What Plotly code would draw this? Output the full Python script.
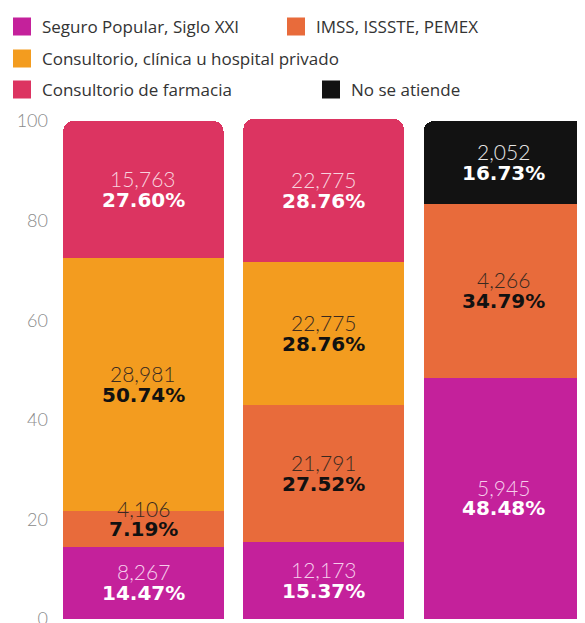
import plotly.graph_objects as go

# ---- data ----
bars = [0, 1, 2]
series_names = ["Seguro Popular, Siglo XXI", "IMSS, ISSSTE, PEMEX",
                "Consultorio, clínica u hospital privado", "Consultorio de farmacia",
                "No se atiende"]
counts = {
    "Seguro Popular, Siglo XXI": [8267, 12173, 5945],
    "IMSS, ISSSTE, PEMEX": [4106, 21791, 4266],
    "Consultorio, clínica u hospital privado": [28981, 22775, None],
    "Consultorio de farmacia": [15763, 22775, None],
    "No se atiende": [None, None, 2052],
}
percents = {
    "Seguro Popular, Siglo XXI": [14.47, 15.37, 48.48],
    "IMSS, ISSSTE, PEMEX": [7.19, 27.52, 34.79],
    "Consultorio, clínica u hospital privado": [50.74, 28.76, None],
    "Consultorio de farmacia": [27.60, 28.76, None],
    "No se atiende": [None, None, 16.73],
}
y_ticks = [0, 20, 40, 60, 80, 100]

# ---- style ----
W, H = 577, 615  # page body has an 8px margin
ML, MR, MT, MB = 47, 0, 108, 4
PW, PH = W - ML - MR, H - MT - MB
colors = {
    "Seguro Popular, Siglo XXI": "#C4219B",
    "IMSS, ISSSTE, PEMEX": "#E86B3B",
    "Consultorio, clínica u hospital privado": "#F39C1F",
    "Consultorio de farmacia": "#DC3461",
    "No se atiende": "#121212",
}
count_colors = {
    "Seguro Popular, Siglo XXI": "#F6CDEB",
    "IMSS, ISSSTE, PEMEX": "#3A2A20",
    "Consultorio, clínica u hospital privado": "#3A2A20",
    "Consultorio de farmacia": "#F8D3DE",
    "No se atiende": "#E6E6E6",
}
pct_colors = {
    "Seguro Popular, Siglo XXI": "#FFFFFF",
    "IMSS, ISSSTE, PEMEX": "#111111",
    "Consultorio, clínica u hospital privado": "#111111",
    "Consultorio de farmacia": "#FFFFFF",
    "No se atiende": "#FFFFFF",
}
legend_px = {  # legend box left / vertical centre, in figure pixels
    "Seguro Popular, Siglo XXI": (-6, 19),
    "IMSS, ISSSTE, PEMEX": (268, 19),
    "Consultorio, clínica u hospital privado": (-6, 51),
    "Consultorio de farmacia": (-6, 82),
    "No se atiende": (303, 82),
}
legend_keys = ["legend", "legend2", "legend3", "legend4", "legend5"]

fig = go.Figure()

for name in series_names:
    fig.add_trace(go.Bar(
        x=bars, y=percents[name], name=name, width=0.89,
        marker=dict(color=colors[name], line=dict(width=0)),
        showlegend=False, hoverinfo="skip",
    ))

# legend keys live on a hidden helper axis pair
for key, name in zip(legend_keys, series_names):
    fig.add_trace(go.Scatter(
        x=[0], y=[0], xaxis="x2", yaxis="y2", mode="markers", name=name, legend=key,
        marker=dict(symbol="square", size=16, color=colors[name],
                    line=dict(width=2, color=colors[name])),
        showlegend=True, hoverinfo="skip",
    ))

# labels
annotations = []
base = [0.0, 0.0, 0.0]
for name in series_names:
    for i in bars:
        p = percents[name][i]
        c = counts[name][i]
        if p is None:
            continue
        mid = base[i] + p / 2
        base[i] += p
        extra = 10 if p < 10 else 0
        annotations.append(dict(
            x=i, y=mid, xref="x", yref="y", text=f"{c:,}", showarrow=False,
            yshift=11 + extra, yanchor="middle",
            font=dict(family="Lato", size=21, color=count_colors[name], weight=300),
        ))
        annotations.append(dict(
            x=i, y=mid, xref="x", yref="y", text=f"<b>{p:.2f}%</b>", showarrow=False,
            yshift=-10 + extra, yanchor="middle",
            font=dict(family="DejaVu Sans", size=20, color=pct_colors[name]),
        ))

layout_legends = {}
for key, name in zip(legend_keys, series_names):
    lx, ly = legend_px[name]
    layout_legends[key] = dict(
        x=(lx - ML) / PW, y=(H - MB - ly) / PH, xref="paper", yref="paper",
        xanchor="left", yanchor="middle",
        bgcolor="rgba(0,0,0,0)", borderwidth=0,
        font=dict(family="Open Sans", size=17, color="#333333"),
        itemwidth=30,
    )

fig.update_layout(
    width=W, height=H,
    margin=dict(l=ML, r=MR, t=MT, b=MB, autoexpand=False),
    paper_bgcolor="white", plot_bgcolor="white",
    barmode="stack", barcornerradius=10,
    annotations=annotations,
    xaxis=dict(range=[-0.49, 2.45], showticklabels=False, showgrid=False,
               zeroline=False, showline=False, ticks=""),
    yaxis=dict(range=[0, 101], tickvals=y_ticks, showgrid=False, zeroline=False,
               showline=False, ticks="", ticklabelstandoff=6, ticklabeloverflow="allow",
               tickfont=dict(family="Lato", size=18, color="#8A8A8A", weight=300)),
    xaxis2=dict(range=[10, 11], visible=False, overlaying="x"),
    yaxis2=dict(range=[10, 11], visible=False, overlaying="y"),
    **layout_legends,
)

fig.write_html("out.html")
